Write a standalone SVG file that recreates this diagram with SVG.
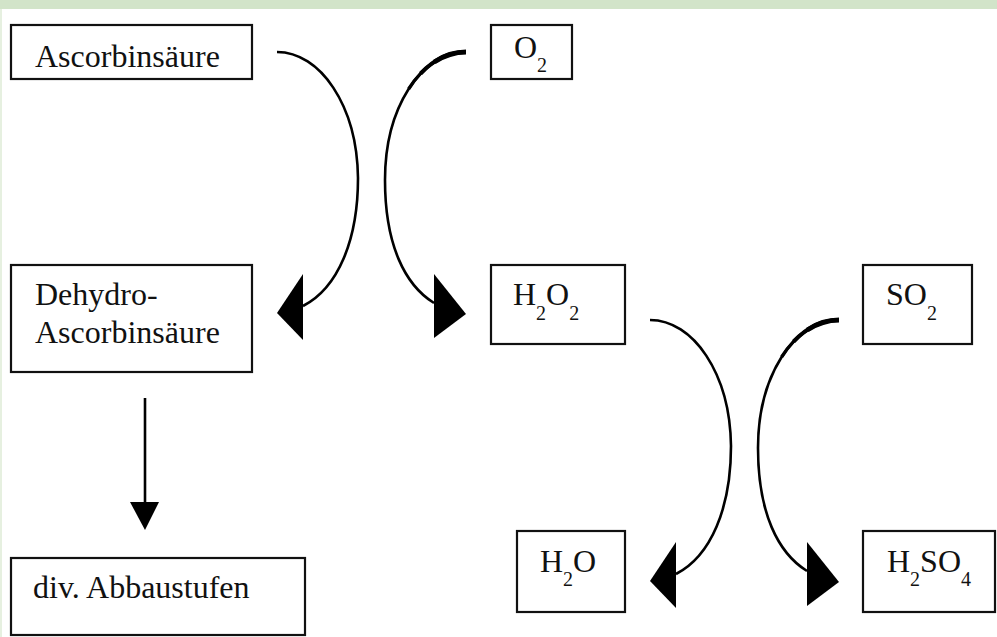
<svg xmlns="http://www.w3.org/2000/svg" width="997" height="637" viewBox="0 0 997 637">
<style>
.box{fill:#fff;stroke:#111;stroke-width:2.2}
.t{font-family:"Liberation Serif","Times New Roman",serif;font-size:32px;fill:#111}
.s{font-size:20px}
.c{fill:none;stroke:#000;stroke-width:2.6}
.c2{fill:none;stroke:#000;stroke-width:3.3}
.c3{fill:none;stroke:#000;stroke-width:4}
.c4{fill:none;stroke:#000;stroke-width:4.8}
.ah{fill:#000}
</style>
<rect x="0" y="0" width="997" height="637" fill="#fff"/>
<rect x="0" y="0" width="997" height="9" fill="#d2e4c9"/>
<rect x="0" y="9" width="2" height="628" fill="#e6f0e0"/>

<g id="ascorbinsaeure">
<rect class="box" x="11" y="25" width="241" height="54"/>
<text class="t" x="35" y="67">Ascorbinsäure</text>
</g>
<g id="o2">
<rect class="box" x="491" y="25" width="81" height="54"/>
<text class="t" x="514" y="58">O<tspan class="s" dy="14">2</tspan></text>
</g>
<g id="dehydroascorbinsaeure">
<rect class="box" x="11" y="265" width="241" height="107"/>
<text class="t" x="35" y="305">Dehydro-</text>
<text class="t" x="35" y="343">Ascorbinsäure</text>
</g>
<g id="h2o2">
<rect class="box" x="491" y="265" width="134" height="79"/>
<text class="t" x="513" y="305">H<tspan class="s" dy="15">2</tspan><tspan dy="-15">O</tspan><tspan class="s" dy="15">2</tspan></text>
</g>
<g id="so2">
<rect class="box" x="863" y="265" width="109" height="79"/>
<text class="t" x="886" y="305">SO<tspan class="s" dy="15">2</tspan></text>
</g>
<g id="abbaustufen">
<rect class="box" x="11" y="558" width="294" height="77"/>
<text class="t" x="33" y="598">div. Abbaustufen</text>
</g>
<g id="h2o">
<rect class="box" x="517" y="531" width="108" height="81"/>
<text class="t" x="540" y="572">H<tspan class="s" dy="14">2</tspan><tspan dy="-14">O</tspan></text>
</g>
<g id="h2so4">
<rect class="box" x="863" y="531" width="132" height="81"/>
<text class="t" x="887" y="572">H<tspan class="s" dy="14">2</tspan><tspan dy="-14">SO</tspan><tspan class="s" dy="14">4</tspan></text>
</g>

<g id="connectors">
<g id="pair1">
<path class="c" d="M277,52 C320,52 357,105 358,178 C358,240 338,288 303,306"/>
<polygon class="ah" points="303,274 303,340 277,313"/>
<path class="c" d="M466,52 C421,52 385,108 385,180 C385,245 405,285 434,303"/>
<path class="c2" d="M466,52 C443.5,52 423.25,66 408.6,89"/>
<path class="c3" d="M466,52 C449.1,52 433.5,59.9 420.6,73.5"/>
<path class="c4" d="M466,52 C454.75,52 444.1,55.5 434.3,61.9"/>
<polygon class="ah" points="434,274 466,314 434,338"/>
</g>
<g id="pair2" transform="translate(373,268)">
<path class="c" d="M277,52 C320,52 357,105 358,178 C358,240 338,288 303,306"/>
<polygon class="ah" points="303,274 303,340 277,313"/>
<path class="c" d="M466,52 C421,52 385,108 385,180 C385,245 405,285 434,303"/>
<path class="c2" d="M466,52 C443.5,52 423.25,66 408.6,89"/>
<path class="c3" d="M466,52 C449.1,52 433.5,59.9 420.6,73.5"/>
<path class="c4" d="M466,52 C454.75,52 444.1,55.5 434.3,61.9"/>
<polygon class="ah" points="434,274 466,314 434,338"/>
</g>
<line x1="145" y1="398" x2="145" y2="506" stroke="#000" stroke-width="2.6"/>
<polygon class="ah" points="130,502 159,502 145,530"/>
</g>
</svg>
